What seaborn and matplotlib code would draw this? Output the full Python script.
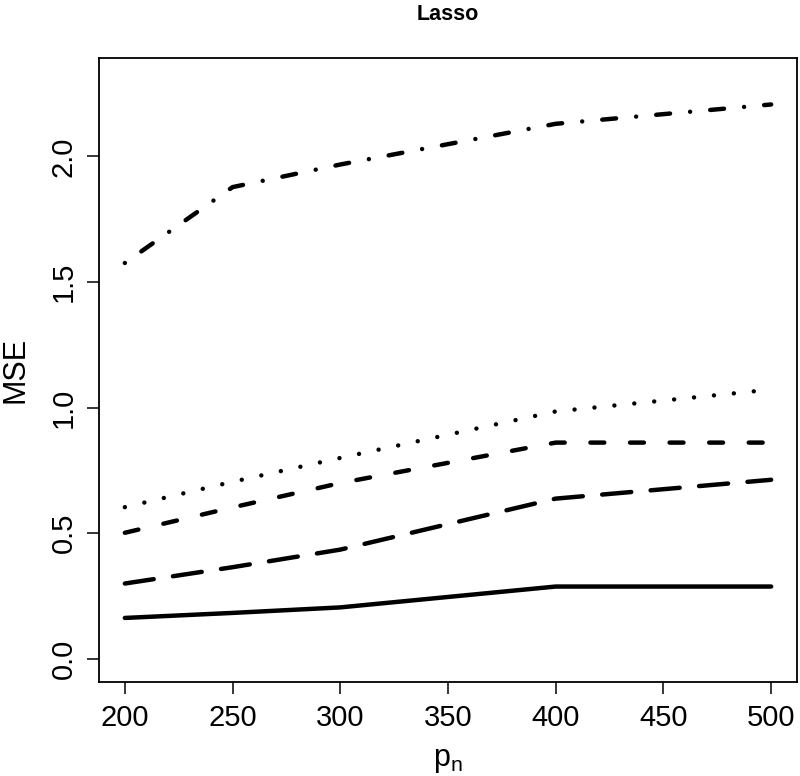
import pandas as pd
import seaborn as sns
import matplotlib.pyplot as plt

# values
p_n = [200, 250, 300, 400, 500]
mse_solid = [0.163, 0.183, 0.205, 0.288, 0.288]
mse_longdash = [0.300, 0.365, 0.435, 0.638, 0.713]
mse_dash = [0.502, 0.603, 0.700, 0.861, 0.861]
mse_dot = [0.604, 0.705, 0.800, 0.985, 1.072]
mse_dotdash = [1.576, 1.878, 1.968, 2.130, 2.207]
series_names = ["solid", "longdash", "dash", "dot", "dotdash"]

frames = []
for name, vals in zip(series_names, [mse_solid, mse_longdash, mse_dash, mse_dot, mse_dotdash]):
    frames.append(pd.DataFrame({"p_n": p_n, "MSE": vals, "series": name}))
dframe = pd.concat(frames, ignore_index=True)

sns.set_theme(style="ticks")
plt.rcParams['font.family'] = ['Liberation Sans', 'DejaVu Sans']
plt.rcParams['lines.scale_dashes'] = False
plt.rcParams['text.color'] = 'black'
plt.rcParams['axes.labelcolor'] = 'black'

dash_styles = {
    "solid": "",
    "longdash": (21, 14),
    "dash": (10, 18.5),
    "dot": (0.01, 14.4),
    "dotdash": (0.01, 14.5, 10, 14.5),
}

fig = plt.figure(figsize=(8, 7.76), dpi=100)
ax = fig.add_axes([99 / 800, 1 - 682 / 776, 698 / 800, 624 / 776])

sns.lineplot(data=dframe, x="p_n", y="MSE", style="series", dashes=dash_styles,
             color="black", linewidth=3.2, legend=False, ax=ax,
             dash_capstyle="round", solid_capstyle="round")

ax.set_xlim(188, 512)
ax.set_ylim(-0.092, 2.392)
ax.set_xticks([200, 250, 300, 350, 400, 450, 500])
ax.set_yticks([0.0, 0.5, 1.0, 1.5, 2.0])
ax.set_yticklabels(["0.0", "0.5", "1.0", "1.5", "2.0"])

for sp in ax.spines.values():
    sp.set_visible(True)
    sp.set_linewidth(1.3)
    sp.set_color("black")

ax.tick_params(axis="both", length=8.5, width=1.1, color="black", labelsize=21, labelcolor="black")
ax.tick_params(axis="x", pad=7)
ax.tick_params(axis="y", pad=17)
for lab in ax.get_yticklabels():
    lab.set_rotation(90)
    lab.set_va("center")
    lab.set_ha("center")

ax.set_xlabel(r"p$_\mathregular{n}$", fontsize=22, labelpad=10)
ax.set_ylabel("MSE", fontsize=22, labelpad=14)
fig.text(448 / 800, 1 - 15 / 776, "Lasso", fontsize=15.5, fontweight="bold",
         ha="center", va="center")

fig.savefig("out.png", dpi=100)
